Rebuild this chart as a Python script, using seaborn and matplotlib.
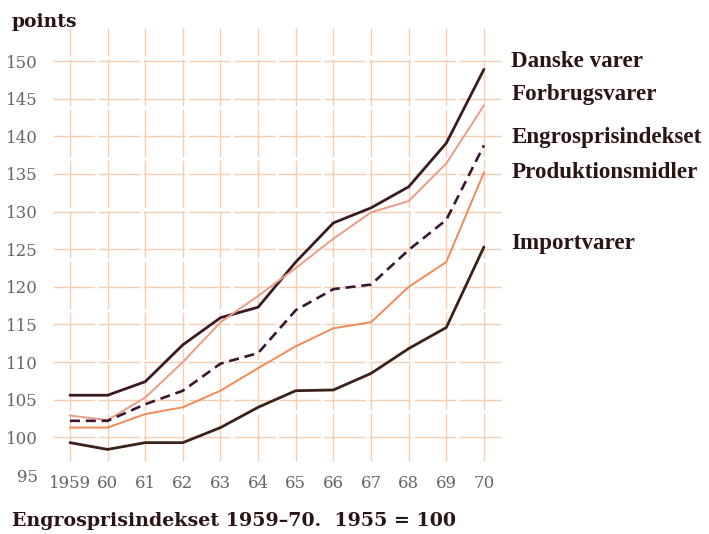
import matplotlib
matplotlib.use("Agg")
import matplotlib.pyplot as plt
import seaborn as sns
import pandas as pd

# Wholesale price index, 1955 = 100
years = list(range(1959, 1971))
year_labels = ["1959", "60", "61", "62", "63", "64", "65", "66", "67", "68", "69", "70"]

danske_varer = [105.6, 105.6, 107.4, 112.3, 115.9, 117.3, 123.3, 128.5, 130.5, 133.3, 139.1, 148.9]
forbrugsvarer = [102.9, 102.3, 105.3, 110.0, 115.3, 118.8, 122.5, 126.4, 129.9, 131.4, 136.4, 144.1]
engrosprisindekset = [102.2, 102.2, 104.4, 106.2, 109.8, 111.2, 116.9, 119.7, 120.3, 124.9, 128.9, 138.8]
produktionsmidler = [101.3, 101.3, 103.1, 104.0, 106.2, 109.2, 112.1, 114.5, 115.3, 120.0, 123.3, 135.2]
importvarer = [99.3, 98.4, 99.3, 99.3, 101.3, 104.0, 106.2, 106.3, 108.5, 111.8, 114.6, 125.3]

series_names = ["Danske varer", "Forbrugsvarer", "Engrosprisindekset",
                "Produktionsmidler", "Importvarer"]
series_values = [danske_varer, forbrugsvarer, engrosprisindekset,
                 produktionsmidler, importvarer]

y_ticks = list(range(95, 151, 5))

# styling per series
colors = {"Danske varer": "#3c1a24", "Forbrugsvarer": "#eb9c82",
          "Engrosprisindekset": "#3a1630", "Produktionsmidler": "#f08a56",
          "Importvarer": "#3a2218"}
widths = {"Danske varer": 2.0, "Forbrugsvarer": 1.4, "Engrosprisindekset": 1.9,
          "Produktionsmidler": 1.4, "Importvarer": 2.0}
label_offsets = {"Danske varer": 1.0, "Forbrugsvarer": 1.4, "Engrosprisindekset": 1.1,
                 "Produktionsmidler": 0.0, "Importvarer": 0.4}

df = pd.DataFrame({
    "year": years * len(series_names),
    "value": [v for vals in series_values for v in vals],
    "series": [n for n in series_names for _ in years],
})

sns.set_theme(style="white")
plt.rcParams["font.family"] = ["DejaVu Serif", "Liberation Serif"]

fig = plt.figure(figsize=(7.09, 5.34), dpi=100)
ax = fig.add_axes([50 / 709, 1 - 475 / 534, 455 / 709, (475 - 28) / 534])
ax.set_xlim(1958.47, 1970.56)
ax.set_ylim(95.0, 154.4)

grid_col = "#f8cdae"
top_y = 154.4
bottom_y = 96.9
for yv in y_ticks:
    if yv >= 100:
        ax.plot([1958.55, 1970.55], [yv, yv], color=grid_col, lw=1.0,
                dashes=(30, 2.5), zorder=0)
for xv in years:
    ax.plot([xv, xv], [bottom_y, top_y], color=grid_col, lw=1.0,
            dashes=(34, 2.5), zorder=0)

for name in series_names:
    sub = df[df["series"] == name]
    line = sns.lineplot(data=sub, x="year", y="value", ax=ax, color=colors[name],
                        linewidth=widths[name], legend=False, zorder=3).lines[-1]
    if name == "Engrosprisindekset":
        line.set_dashes((3.8, 2.2))

for name, vals in zip(series_names, series_values):
    ax.text(1970.73, vals[-1] + label_offsets[name], name, ha="left", va="center",
            fontsize=16.6, fontweight="bold", color="#2a1414", clip_on=False,
            family=["Liberation Serif", "DejaVu Serif"])

ax.set_xticks(years)
ax.set_xticklabels(year_labels, fontsize=12, color="#6a6464")
ax.set_yticks(y_ticks)
ax.set_yticklabels([str(t) for t in y_ticks], fontsize=12, color="#6a6464")
ax.tick_params(axis="x", length=0, pad=0)
ax.tick_params(axis="y", length=0, pad=9)
ax.set_xlabel("")
ax.set_ylabel("")
for s in ax.spines.values():
    s.set_visible(False)

fig.text(12 / 709, 1 - 22 / 534, "points", ha="left", va="center",
         fontsize=13.5, fontweight="bold", color="#2a1414")
fig.text(12 / 709, 1 - 521 / 534, "Engrosprisindekset 1959–70.  1955 = 100",
         ha="left", va="center", fontsize=13.7, fontweight="bold", color="#2a1414")

fig.savefig("out.png", dpi=100, facecolor="white")
